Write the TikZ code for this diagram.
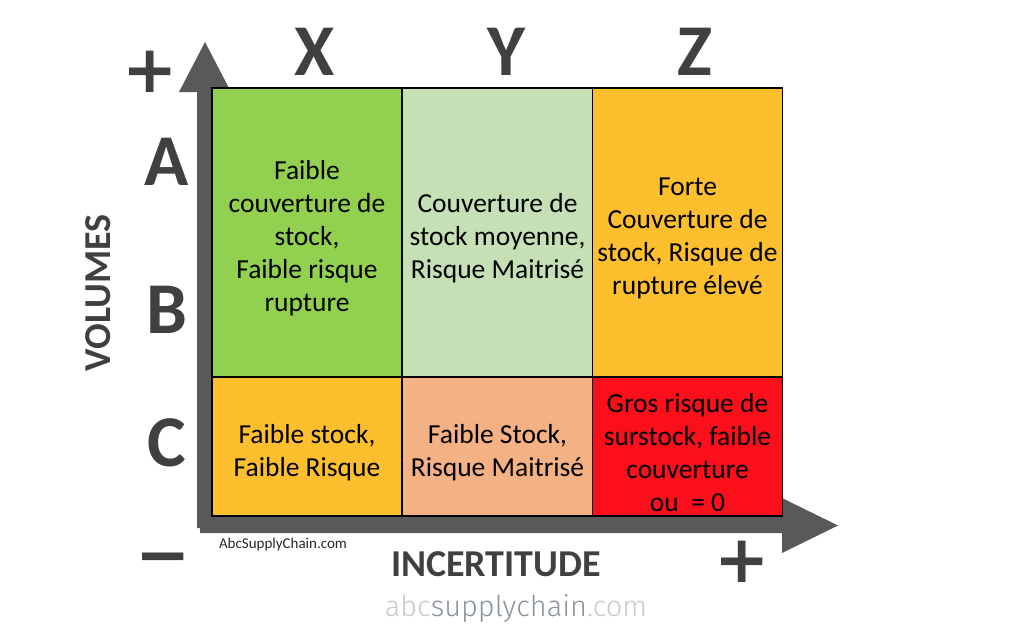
\documentclass[tikz,border=0pt]{standalone}
\usepackage{fontspec}
\setmainfont{Carlito}
\newfontfamily\signfont{DejaVu Sans}
\newfontfamily\thinfont{Fira Sans Light}
\definecolor{axisgray}{HTML}{595959}
\definecolor{labelgray}{HTML}{404040}
\definecolor{cgreen}{HTML}{92D050}
\definecolor{clightgreen}{HTML}{C5E0B4}
\definecolor{corange}{HTML}{FDBF2D}
\definecolor{cpeach}{HTML}{F4B183}
\definecolor{cred}{HTML}{FA0F1A}
\definecolor{wmlight}{HTML}{C5CACF}
\definecolor{wmdark}{HTML}{8A939C}
\tikzset{
  cell/.style={draw=black, line width=1.2pt, inner sep=0pt},
  celltext/.style={inner sep=0pt, align=center, yshift=-6pt,
    font=\fontsize{27.5}{33}\selectfont, text=black},
  toprow/.style={minimum width=190pt, minimum height=289pt},
  botrow/.style={minimum width=190pt, minimum height=139pt},
  biglabel/.style={font=\bfseries\fontsize{73}{73}\selectfont, text=labelgray, inner sep=0pt, anchor=base},
  axislabel/.style={font=\bfseries\fontsize{38}{38}\selectfont, text=labelgray, inner sep=0pt, anchor=base},
  signlabel/.style={font=\signfont\bfseries\fontsize{66}{66}\selectfont, text=labelgray, inner sep=0pt}
}
\begin{document}
\begin{tikzpicture}[x=1pt,y=-1pt]
\useasboundingbox (0,0) rectangle (1024,637);
% axes
\fill[axisgray] (197,528) -- (197,92) -- (179,92) -- (205,42) -- (231,92) -- (212,92) -- (212,528) -- cycle;
\fill[axisgray] (200,516) -- (782,516) -- (782,498) -- (838,525.5) -- (782,553) -- (782,533) -- (200,533) -- cycle;
% cells
\node[cell, toprow, fill=cgreen] (xa) at (307,232.5) {};
\node[cell, toprow, fill=clightgreen] (ya) at (497.5,232.5) {};
\node[cell, toprow, fill=corange] (za) at (687.5,232.5) {};
\node[cell, botrow, fill=corange] (xc) at (307,446.5) {};
\node[cell, botrow, fill=cpeach] (yc) at (497.5,446.5) {};
\node[cell, botrow, fill=cred] (zc) at (687.5,446.5) {};
\node[celltext] (txa) at (xa.center) {Faible\\couverture de\\stock,\\Faible risque\\rupture};
\node[celltext] (tya) at (ya.center) {Couverture de\\stock moyenne,\\Risque Maitrisé};
\node[celltext] (tza) at (za.center) {Forte\\Couverture de\\stock, Risque de\\rupture élevé};
\node[celltext] (txc) at (xc.center) {Faible stock,\\Faible Risque};
\node[celltext] (tyc) at (yc.center) {Faible Stock,\\Risque Maitrisé};
\node[celltext] (tzc) at (zc.center) {Gros risque de\\surstock, faible\\couverture\\ou~ = 0};
% column / row labels
\node[biglabel] (lx) at (315,75) {X};
\node[biglabel] (ly) at (506,75) {Y};
\node[biglabel] (lz) at (695,75) {Z};
\node[biglabel] (la) at (167,185) {A};
\node[biglabel] (lb) at (167,333) {B};
\node[biglabel] (lc) at (167,466) {C};
% axis titles
\node[axislabel, rotate=90] (vol) at (110,293) {VOLUMES};
\node[axislabel] (inc) at (496,576) {INCERTITUDE};
% signs
\node[signlabel] (plustop) at (150,72) {+};
\node[signlabel] (minus) at (163,565) {−};
\node[signlabel] (plusright) at (742,562) {+};
% watermarks
\node[font=\fontsize{15}{15}\selectfont, text=black!85, inner sep=0pt, anchor=base] (wm1) at (283,548) {AbcSupplyChain.com};
\node[font=\thinfont\fontsize{29}{29}\selectfont, inner sep=0pt, anchor=base] (wm2) at (516,616) {\textcolor{wmlight}{abc}\textcolor{wmdark}{supplychain}\textcolor{wmlight}{.com}};
\end{tikzpicture}
\end{document}
